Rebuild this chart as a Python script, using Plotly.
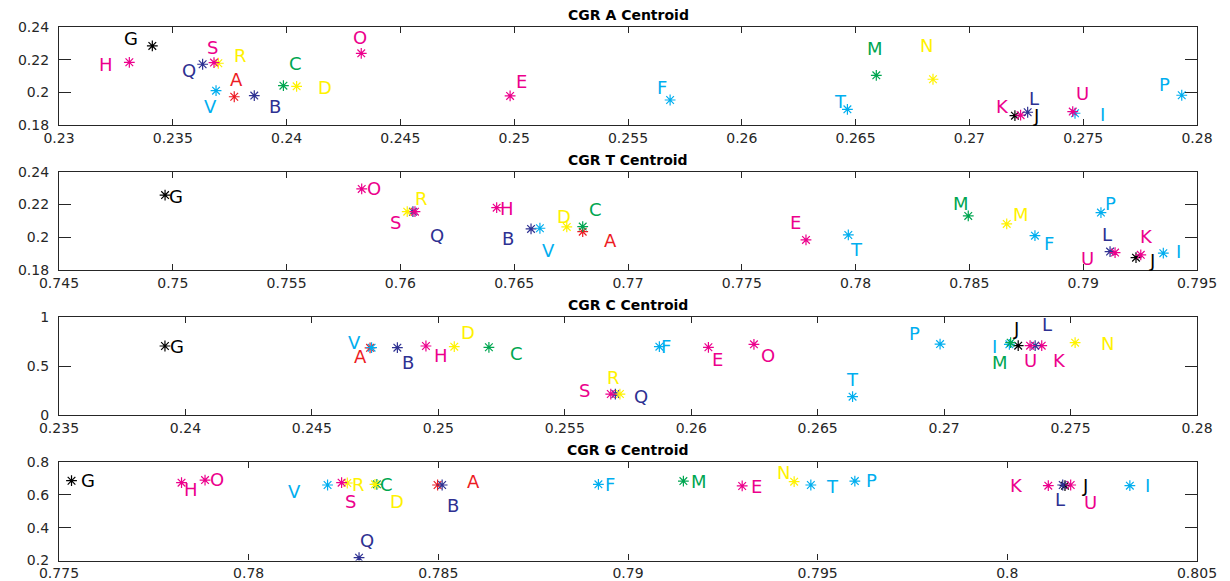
import plotly.graph_objects as go

# ---------------- data ----------------
letters = list("ABCDEFGHIJKLMNOPQRSTUV")
letter_colors = ["#ed1c24", "#2e3192", "#00a651", "#fff200", "#ec008c", "#00aeef",
                 "#000000", "#ec008c", "#00aeef", "#000000", "#ec008c", "#2e3192",
                 "#00a651", "#fff200", "#ec008c", "#00aeef", "#2e3192", "#fff200",
                 "#ec008c", "#00aeef", "#ec008c", "#00aeef"]

titles = ["CGR A Centroid", "CGR T Centroid", "CGR C Centroid", "CGR G Centroid"]

a_x = [0.2377, 0.23858, 0.23986, 0.24044, 0.24982, 0.25685, 0.2341, 0.23309, 0.27464, 0.27200, 0.27225,
       0.27256, 0.26591, 0.26840, 0.24328, 0.27933, 0.23631, 0.2370, 0.23681, 0.26464, 0.27454, 0.2369]
a_y = [0.1973, 0.1980, 0.2041, 0.2037, 0.1978, 0.1953, 0.2284, 0.2184, 0.1872, 0.1857, 0.1860,
       0.1878, 0.2104, 0.2080, 0.2239, 0.1982, 0.2172, 0.2178, 0.2182, 0.1896, 0.1882, 0.2010]
a_labels = list("ABCDEFGHIJKLMNOPQRSTUV")

t_x = [0.76801, 0.76574, 0.76801, 0.76731, 0.77782, 0.78788, 0.74966, 0.76423, 0.79352, 0.79232, 0.79253,
       0.79118, 0.78495, 0.78664, 0.7583, 0.79078, 0.76055, 0.7603, 0.76064, 0.77968, 0.7914, 0.76613]
t_y = [0.2035, 0.2052, 0.2066, 0.2064, 0.1985, 0.2011, 0.2258, 0.2181, 0.1904, 0.1877, 0.1894,
       0.1914, 0.2131, 0.2082, 0.2295, 0.2151, 0.2157, 0.2157, 0.2157, 0.2015, 0.1908, 0.2056]
t_labels = list("ABCDEFGHIJKLMMOPQRSTUV")

c_x = [0.2473, 0.24838, 0.2520, 0.25063, 0.26068, 0.25874, 0.23919, 0.24951, 0.27258, 0.27293, 0.27386,
       0.2736, 0.27263, 0.27518, 0.26248, 0.26984, 0.2570, 0.25718, 0.25682, 0.26638, 0.2734, 0.24736]
c_y = [0.685, 0.687, 0.691, 0.697, 0.691, 0.697, 0.704, 0.704, 0.721, 0.707, 0.707,
       0.707, 0.738, 0.738, 0.721, 0.724, 0.214, 0.214, 0.214, 0.187, 0.707, 0.687]
c_labels = list("ABCDEFGHIJKLMNOPQRSTUV")

g_x = [0.78498, 0.7851, 0.78338, 0.78333, 0.79301, 0.78922, 0.77533, 0.77823, 0.80323, 0.80152, 0.80108,
       0.80146, 0.79146, 0.79438, 0.77885, 0.79598, 0.78291, 0.7826, 0.78245, 0.79482, 0.80167, 0.78208]
g_y = [0.660, 0.660, 0.664, 0.664, 0.654, 0.664, 0.686, 0.674, 0.656, 0.656, 0.656,
       0.660, 0.684, 0.680, 0.690, 0.684, 0.217, 0.672, 0.674, 0.660, 0.660, 0.660]
g_labels = list("ABCDEFGHIJKLMNOPQRSTUV")

# ---------------- label offsets (pixels, screen: +dx right, +dy down) ----------------
a_off = [(2, -17), (21, 11), (12, -22), (28, 1), (11, -14), (-8, -13), (-21, -7), (-23, 2), (27, 1), (21, 0), (-18, -9),
         (6, -14), (-1, -27), (-6, -34), (-1, -16), (-17, -11), (-14, 6), (22, -8), (-2, -15), (-7, -8), (10, -18), (-6, 16)]
t_off = [(28, 9), (-23, 10), (13, -17), (-3, -10), (-10, -17), (14, 8), (11, 1), (10, 1), (15, -2), (16, 3), (6, -18),
         (-3, -17), (-7, -12), (14, -9), (12, 0), (10, -9), (24, 24), (14, -13), (-19, 11), (8, 15), (-28, 6), (9, 22)]
c_off = [(-10, 9), (11, 15), (28, 6), (14, -14), (9, 12), (7, 0), (12, 0), (15, 9), (-15, 2), (-2, -17), (18, 15),
         (12, -21), (-11, 20), (32, 1), (14, 11), (-26, -11), (26, 2), (-6, -17), (-26, -4), (0, -17), (0, 15), (-17, -5)]
g_off = [(36, -3), (11, 21), (10, 0), (22, 17), (14, 1), (12, 0), (16, 0), (9, 7), (18, 0), (20, 0), (-32, 0),
         (-3, 15), (16, 0), (-11, -9), (12, -1), (17, -1), (8, -17), (11, 1), (9, 19), (22, 2), (20, 18), (-33, 7)]

panels = [
    dict(x=a_x, y=a_y, labels=a_labels, off=a_off, xr=[0.23, 0.28], yr=[0.18, 0.24], ydt=0.02),
    dict(x=t_x, y=t_y, labels=t_labels, off=t_off, xr=[0.745, 0.795], yr=[0.18, 0.24], ydt=0.02),
    dict(x=c_x, y=c_y, labels=c_labels, off=c_off, xr=[0.235, 0.28], yr=[0, 1], ydt=0.5),
    dict(x=g_x, y=g_y, labels=g_labels, off=g_off, xr=[0.775, 0.805], yr=[0.2, 0.8], ydt=0.2),
]

# ---------------- layout geometry ----------------
# the page body adds an 8px margin, so the figure is made 8px smaller and shifted
OFF = 8
W, H = 1230 - OFF, 581 - OFF
def px_x(p):
    return (p - OFF) / W
def px_y(p):
    return 1 - (p - OFF) / H

x_left, x_right = px_x(59), px_x(1197)
y_doms = [(px_y(125), px_y(27)), (px_y(270.3), px_y(171.7)),
          (px_y(415), px_y(317)), (px_y(560.5), px_y(462))]

fig = go.Figure()
annotations = []
FONT = "DejaVu Sans, Liberation Sans, Arial, sans-serif"
axis_font = dict(family=FONT, size=14, color="#262626")

for i, p in enumerate(panels):
    n = i + 1
    xa = "x" if n == 1 else f"x{n}"
    ya = "y" if n == 1 else f"y{n}"
    fig.add_trace(go.Scatter(
        x=p["x"], y=p["y"], mode="markers", xaxis=xa, yaxis=ya,
        marker=dict(symbol="asterisk-open", size=9, color=letter_colors,
                    line=dict(color=letter_colors, width=1.2)),
        hoverinfo="skip", showlegend=False))
    for k in range(len(p["x"])):
        dx, dy = p["off"][k]
        annotations.append(dict(
            x=p["x"][k], y=p["y"][k], xref=xa, yref=ya, text=p["labels"][k],
            showarrow=False, xshift=dx, yshift=-dy,
            font=dict(family=FONT, size=18, color=letter_colors[k])))
    annotations.append(dict(
        x=(x_left + x_right) / 2, y=y_doms[i][1], xref="paper", yref="paper",
        text="<b>" + titles[i] + "</b>", showarrow=False, yanchor="bottom", yshift=2,
        font=dict(family=FONT, size=14, color="#000000")))

    xkey = "xaxis" if n == 1 else f"xaxis{n}"
    ykey = "yaxis" if n == 1 else f"yaxis{n}"
    fig.update_layout(**{
        xkey: dict(domain=[x_left, x_right], anchor=ya, range=p["xr"], dtick=0.005,
                   tick0=p["xr"][0], ticks="inside", ticklen=6, tickwidth=1.2,
                   tickcolor="#262626", showline=True, linecolor="#262626", linewidth=1.2,
                   mirror="ticks", showgrid=False, zeroline=False, tickfont=axis_font,
                   automargin=False),
        ykey: dict(domain=list(y_doms[i]), anchor=xa, range=p["yr"], dtick=p["ydt"],
                   tick0=p["yr"][0], ticks="inside", ticklen=12, tickwidth=1.2,
                   tickcolor="#262626", showline=True, linecolor="#262626", linewidth=1.2,
                   mirror="ticks", showgrid=False, zeroline=False, tickfont=axis_font,
                   ticklabelstandoff=6, automargin=False),
    })

fig.update_layout(width=W, height=H, margin=dict(l=0, r=0, t=0, b=0, autoexpand=False),
                  paper_bgcolor="white", plot_bgcolor="white",
                  annotations=annotations, hovermode=False)

fig.write_html("out.html", config={"displayModeBar": False})
